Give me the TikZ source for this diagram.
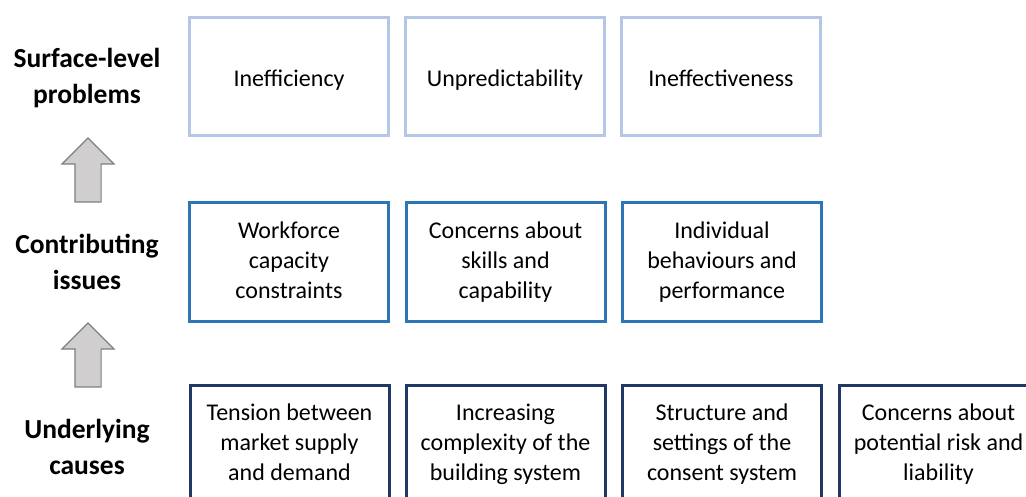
\documentclass[tikz,border=0pt]{standalone}
\usepackage{fontspec}
\setmainfont{Carlito}
\usetikzlibrary{shapes.arrows}

\definecolor{surfaceblue}{RGB}{180,199,231}
\definecolor{issueblue}{RGB}{46,117,182}
\definecolor{causenavy}{RGB}{31,56,100}
\definecolor{arrowfill}{RGB}{208,206,206}
\definecolor{arrowline}{RGB}{127,127,127}

% even strut for the box lines
\newcommand{\boxstrut}{\rule[-4.5pt]{0pt}{28pt}}

\begin{document}
\begin{tikzpicture}[x=1pt,y=-1pt]
    \tikzset{Box/.style = {%
        shape= rectangle,
        line width= 3pt,
        fill= white,
        minimum width= 199pt,
        minimum height= 118pt,
        align= center,
        execute at begin node= \boxstrut,
        execute at end node= \boxstrut,
        font= \fontsize{24}{30}\selectfont},
      Level/.style = {%
        align= center,
        font= \fontsize{27.5}{36}\selectfont\bfseries},
      UpArrow/.style = {%
        shape= single arrow,
        shape border rotate= 90,
        single arrow tip angle= 90,
        single arrow head extend= 13pt,
        minimum width= 51pt,
        minimum height= 64pt,
        inner sep= 12.5pt,
        fill= arrowfill,
        draw= arrowline,
        line width= 1.2pt}}
    \clip (0,0) rectangle (1026,497);
    % levels on the left
    \node[Level] (surface) at (87,78) {Surface-level\\problems};
    \node[Level] (issues) at (87,262) {Contributing\\issues};
    \node[Level] (causes) at (87,447) {Underlying\\causes};
    \node[UpArrow] (up1) at (88,176.5) {};
    \node[UpArrow] (up2) at (88,361.5) {};
    % surface-level problems
    \node[Box,draw=surfaceblue] (ineff) at (289,77) {Inefficiency};
    \node[Box,draw=surfaceblue] (unpred) at (505,77) {Unpredictability};
    \node[Box,draw=surfaceblue] (ineffect) at (721,77) {Ineffectiveness};
    % contributing issues
    \node[Box,draw=issueblue] (workforce) at (289,262) {Workforce\\capacity\\constraints};
    \node[Box,draw=issueblue] (skills) at (505.5,262) {Concerns about\\skills and\\capability};
    \node[Box,draw=issueblue] (behaviour) at (722,262) {Individual\\behaviours and\\performance};
    % underlying causes
    \node[Box,draw=causenavy] (market) at (289.5,444) {Tension between\\market supply\\and demand};
    \node[Box,draw=causenavy] (complex) at (505.5,444) {Increasing\\complexity of the\\building system};
    \node[Box,draw=causenavy] (consent) at (722,444) {Structure and\\settings of the\\consent system};
    \node[Box,draw=causenavy] (risk) at (938.5,444) {Concerns about\\potential risk and\\liability};
 \end{tikzpicture}
\end{document}
